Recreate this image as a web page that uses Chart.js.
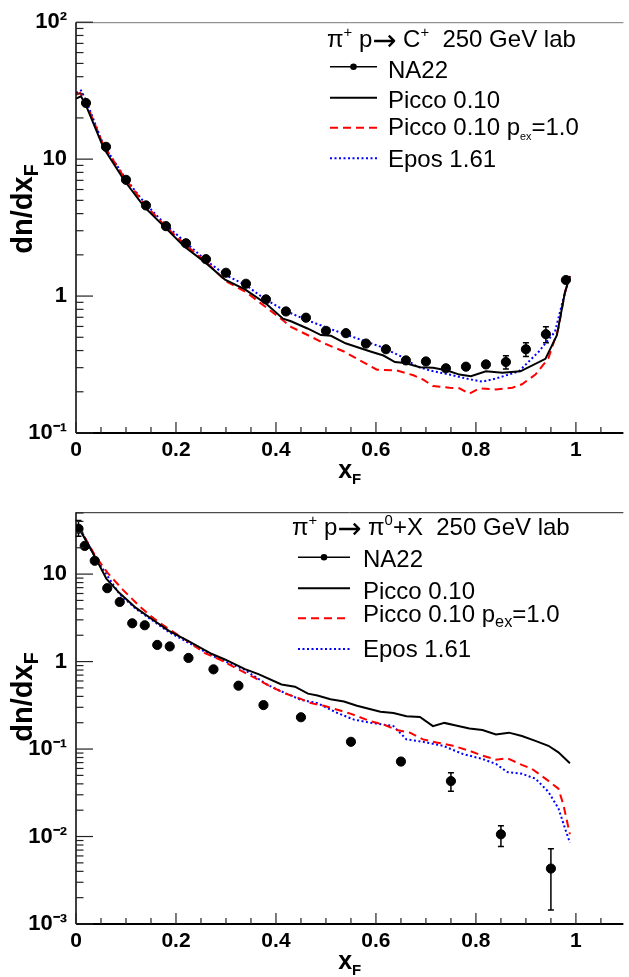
<!DOCTYPE html>
<html>
<head>
<meta charset="utf-8">
<script src="https://cdn.jsdelivr.net/npm/chart.js@4"></script>
<style>
  html, body { margin: 0; padding: 0; background: #fff; overflow: hidden; }
  canvas { position: absolute; left: 0; }
  #chart-top { top: 0; }
  #chart-bot { top: 490px; }
</style>
</head>
<body>
<canvas id="chart-top" width="629" height="490"></canvas>
<canvas id="chart-bot" width="629" height="487"></canvas>
<script>
// ---- top panel: pi+ p -> C+ ----
const topNA22X = [0.02, 0.06, 0.10, 0.14, 0.18, 0.22, 0.26, 0.30, 0.34, 0.38, 0.42, 0.46, 0.50,
                  0.54, 0.58, 0.62, 0.66, 0.70, 0.74, 0.78, 0.82, 0.86, 0.90, 0.94, 0.98];
const topNA22Y = [25.7, 12.3, 7.06, 4.59, 3.24, 2.43, 1.86, 1.48, 1.23, 0.946, 0.772, 0.695, 0.557,
                  0.536, 0.450, 0.409, 0.339, 0.333, 0.297, 0.305, 0.317, 0.330, 0.409, 0.527, 1.31];
const topNA22Err = [0.5, 0.2, 0.1, 0.06, 0.04, 0.03, 0.02, 0.02, 0.02, 0.015, 0.012, 0.012, 0.01,
                    0.01, 0.01, 0.01, 0.008, 0.008, 0.008, 0.015, 0.016, 0.037, 0.047, 0.07, 0.03];

const topPiccoX = [0, 0.01, 0.02, 0.055, 0.097, 0.137, 0.18, 0.216, 0.255, 0.298, 0.338, 0.381, 0.414,
                   0.43, 0.463, 0.49, 0.51, 0.539, 0.589, 0.615, 0.638, 0.658, 0.688, 0.714, 0.741,
                   0.767, 0.79, 0.82, 0.853, 0.889, 0.939, 0.962, 0.978, 0.988];
const topPiccoY = [27.7, 28.8, 24.7, 12.1, 6.95, 4.47, 3.12, 2.31, 1.80, 1.32, 1.12, 0.875, 0.684,
                   0.655, 0.58, 0.519, 0.513, 0.452, 0.394, 0.368, 0.330, 0.324, 0.302, 0.299, 0.287,
                   0.267, 0.260, 0.282, 0.275, 0.282, 0.348, 0.519, 1.06, 1.40];

const topPexX = [0, 0.008, 0.02, 0.054, 0.097, 0.137, 0.18, 0.22, 0.26, 0.30, 0.34, 0.378, 0.414, 0.43,
                 0.47, 0.496, 0.536, 0.562, 0.602, 0.642, 0.675, 0.694, 0.714, 0.747, 0.767, 0.787,
                 0.807, 0.84, 0.873, 0.892, 0.919, 0.945, 0.965, 0.978, 0.988];
const topPexY = [29.5, 30.5, 26, 12.8, 7.3, 4.7, 3.2, 2.35, 1.78, 1.28, 1.07, 0.84, 0.665, 0.596,
                 0.505, 0.452, 0.394, 0.348, 0.290, 0.286, 0.264, 0.246, 0.220, 0.214, 0.212, 0.194,
                 0.212, 0.208, 0.214, 0.227, 0.267, 0.352, 0.58, 1.06, 1.40];

const topEposX = [0, 0.01, 0.02, 0.054, 0.097, 0.137, 0.18, 0.22, 0.26, 0.30, 0.34, 0.378, 0.417,
                  0.463, 0.516, 0.562, 0.609, 0.655, 0.681, 0.708, 0.747, 0.78, 0.813, 0.84, 0.886,
                  0.926, 0.958, 0.978, 0.988];
const topEposY = [30.5, 31.7, 27, 12.9, 7.4, 4.8, 3.3, 2.45, 1.82, 1.42, 1.2, 0.95, 0.785,
                  0.665, 0.563, 0.491, 0.427, 0.356, 0.307, 0.286, 0.267, 0.250, 0.237, 0.250, 0.282,
                  0.394, 0.548, 1.06, 1.40];

// ---- bottom panel: pi+ p -> pi0 + X ----
const botNA22X = [0.005, 0.0175, 0.0375, 0.0625, 0.0875, 0.1125, 0.1375, 0.1625, 0.1875, 0.225,
                  0.275, 0.325, 0.375, 0.45, 0.55, 0.65, 0.75, 0.85, 0.95];
const botNA22Y = [33, 21, 14.2, 6.9, 4.8, 2.74, 2.6, 1.55, 1.49, 1.10,
                  0.815, 0.53, 0.318, 0.231, 0.121, 0.072, 0.043, 0.0106, 0.0043];
const botNA22Lo = [27, 20.4, 13.8, 6.7, 4.7, 2.68, 2.54, 1.52, 1.46, 1.08,
                   0.80, 0.52, 0.312, 0.226, 0.118, 0.066, 0.033, 0.0077, 0.00145];
const botNA22Hi = [41, 21.6, 14.6, 7.1, 4.9, 2.80, 2.66, 1.58, 1.52, 1.12,
                   0.83, 0.54, 0.324, 0.236, 0.124, 0.078, 0.0536, 0.0133, 0.00727];

const botPiccoX = [0, 0.01, 0.04, 0.061, 0.087, 0.12, 0.153, 0.186, 0.226, 0.272, 0.299, 0.338,
                   0.365, 0.411, 0.438, 0.464, 0.483, 0.509, 0.536, 0.562, 0.609, 0.635, 0.661,
                   0.688, 0.714, 0.737, 0.76, 0.787, 0.813, 0.84, 0.866, 0.892, 0.919, 0.945,
                   0.965, 0.988];
const botPiccoY = [31.3, 30.5, 15.0, 8.8, 6.07, 4.11, 3.03, 2.24, 1.70, 1.22, 1.05, 0.82,
                   0.72, 0.548, 0.516, 0.43, 0.41, 0.371, 0.350, 0.312, 0.267, 0.258, 0.237,
                   0.233, 0.183, 0.199, 0.186, 0.172, 0.165, 0.147, 0.154, 0.141, 0.124, 0.109,
                   0.0916, 0.0689];

const botPexX = [0, 0.008, 0.04, 0.064, 0.094, 0.127, 0.156, 0.186, 0.222, 0.258, 0.291, 0.325,
                 0.354, 0.384, 0.417, 0.447, 0.47, 0.496, 0.523, 0.549, 0.589, 0.615, 0.642,
                 0.668, 0.694, 0.721, 0.754, 0.787, 0.813, 0.84, 0.863, 0.892, 0.912, 0.939,
                 0.965, 0.975, 0.988];
const botPexY = [31, 32.7, 15.7, 10.2, 6.6, 4.29, 3.1, 2.34, 1.73, 1.25, 1.03, 0.815,
                 0.668, 0.538, 0.434, 0.38, 0.335, 0.312, 0.281, 0.254, 0.208, 0.191, 0.165,
                 0.154, 0.129, 0.119, 0.109, 0.0957, 0.084, 0.0757, 0.0783, 0.0659, 0.0594, 0.0459,
                 0.0353, 0.023, 0.0106];

const botEposX = [0, 0.01, 0.04, 0.087, 0.12, 0.153, 0.186, 0.226, 0.272, 0.338, 0.384, 0.417,
                  0.45, 0.483, 0.523, 0.556, 0.589, 0.635, 0.661, 0.694, 0.734, 0.774, 0.813,
                  0.84, 0.863, 0.892, 0.919, 0.945, 0.965, 0.978, 0.988];
const botEposY = [30, 31.5, 15.0, 5.9, 4.0, 2.95, 2.17, 1.63, 1.17, 0.80, 0.538, 0.44,
                  0.365, 0.335, 0.258, 0.217, 0.2, 0.183, 0.129, 0.121, 0.109, 0.0877, 0.0771,
                  0.0676, 0.0545, 0.0522, 0.0459, 0.0324, 0.021, 0.0125, 0.0085];

const xTicks = [0, 0.2, 0.4, 0.6, 0.8, 1];
const topDecades = [0.1, 1, 10, 100];
const botDecades = [0.001, 0.01, 0.1, 1, 10];

const FONT = '"Liberation Sans", Arial, Helvetica, sans-serif';
const SYM = '"DejaVu Sans", sans-serif';
const supLabel = {'2': '10²', '1': '10', '0': '1', '-1': '10⁻¹', '-2': '10⁻²', '-3': '10⁻³'};

function pts(xs, ys) { return xs.map((x, i) => ({x: x, y: ys[i]})); }

function modelSets(picco, pex, epos) {
    return [
        {label: 'Picco 0.10', data: picco, showLine: true, pointRadius: 0,
         borderColor: '#000', borderWidth: 2},
        {label: 'Picco 0.10 pex=1.0', data: pex, showLine: true, pointRadius: 0,
         borderColor: '#ff0000', borderWidth: 2, borderDash: [8, 5]},
        {label: 'Epos 1.61', data: epos, showLine: true, pointRadius: 0,
         borderColor: '#0000ff', borderWidth: 2, borderDash: [2, 2.5]}
    ];
}

// draws text made of pieces: [text, 0 normal | 1 sup | 2 sub | 3 arrow, size factor]
function partFont(m, f, size, weight) {
    if (m === 3) return weight + ' ' + size * (f || 1.2) + 'px ' + SYM;
    const fs = m ? size * (f || 0.62) : size;
    return weight + ' ' + fs + 'px ' + FONT;
}
function rich(ctx, x, y, parts, size, weight) {
    parts.forEach(([t, m, f]) => {
        ctx.font = partFont(m, f, size, weight);
        const dy = m === 1 ? -size * 0.42 : m === 2 ? size * 0.22 : m === 3 ? size * 0.12 : 0;
        ctx.fillText(t, x, y + dy);
        x += ctx.measureText(t).width;
    });
    return x;
}
function richWidth(ctx, parts, size, weight) {
    let w = 0;
    parts.forEach(([t, m, f]) => {
        ctx.font = partFont(m, f, size, weight);
        w += ctx.measureText(t).width;
    });
    return w;
}

const panels = {
    'chart-top': {
        errX: topNA22X,
        errLo: topNA22Y.map((v, i) => v - topNA22Err[i]),
        errHi: topNA22Y.map((v, i) => v + topNA22Err[i]),
        topColor: '#777',
        title: {x: 327, y: 47, parts: [['π', 0], ['+', 1], [' p', 0], ['→', 3], [' C', 0], ['+', 1], ['  250 GeV lab', 0]]},
        legLine: [330, 377],
        legText: 388,
        entries: [
            {ds: 0, ly: 66.7, ty: 78, parts: [['NA22', 0]]},
            {ds: 1, ly: 97.7, ty: 108, parts: [['Picco 0.10', 0]]},
            {ds: 2, ly: 127.7, ty: 135, parts: [['Picco 0.10 p', 0], ['ex', 2, 0.45], ['=1.0', 0]]},
            {ds: 3, ly: 158.3, ty: 166.7, parts: [['Epos 1.61', 0]]}
        ],
        xTitleY: 478,
        yTitleMid: 209
    },
    'chart-bot': {
        errX: botNA22X,
        errLo: botNA22Lo,
        errHi: botNA22Hi,
        topColor: '#222',
        title: {x: 292, y: 45, parts: [['π', 0], ['+', 1], [' p', 0], ['→', 3], [' π', 0], ['0', 1], ['+X  250 GeV lab', 0]]},
        legLine: [298, 350],
        legText: 363,
        entries: [
            {ds: 0, ly: 67.3, ty: 76.7, parts: [['NA22', 0]]},
            {ds: 1, ly: 98.3, ty: 109, parts: [['Picco 0.10', 0]]},
            {ds: 2, ly: 128.3, ty: 131.7, parts: [['Picco 0.10 p', 0], ['ex', 2, 0.68], ['=1.0', 0]]},
            {ds: 3, ly: 159, ty: 166.7, parts: [['Epos 1.61', 0]]}
        ],
        xTitleY: 479,
        yTitleMid: 207
    }
};

const rootStyle = {
    id: 'rootStyle',
    beforeDatasetsDraw(chart) {
        const p = panels[chart.canvas.id];
        const {ctx, scales: {x, y}} = chart;
        ctx.save();
        ctx.strokeStyle = '#000';
        ctx.lineWidth = 1.5;
        p.errX.forEach((xv, i) => {
            const px = x.getPixelForValue(xv);
            const p1 = y.getPixelForValue(p.errLo[i]);
            const p2 = y.getPixelForValue(p.errHi[i]);
            ctx.beginPath();
            ctx.moveTo(px, p1); ctx.lineTo(px, p2);
            ctx.moveTo(px - 3, p1); ctx.lineTo(px + 3, p1);
            ctx.moveTo(px - 3, p2); ctx.lineTo(px + 3, p2);
            ctx.stroke();
        });
        ctx.restore();
    },
    afterDraw(chart) {
        const p = panels[chart.canvas.id];
        const {ctx, chartArea: a, scales: {x, y}} = chart;
        ctx.save();

        // frame
        ctx.strokeStyle = p.topColor;
        ctx.lineWidth = 1;
        ctx.beginPath(); ctx.moveTo(a.left, a.top + 0.5); ctx.lineTo(a.right, a.top + 0.5); ctx.stroke();
        ctx.strokeStyle = '#000';
        ctx.lineWidth = 1.5;
        ctx.beginPath(); ctx.moveTo(a.left, a.top); ctx.lineTo(a.left, a.bottom); ctx.stroke();
        ctx.lineWidth = 2;
        ctx.beginPath(); ctx.moveTo(a.left, a.bottom); ctx.lineTo(a.right, a.bottom); ctx.stroke();

        // x ticks (inside)
        ctx.lineWidth = 1.2;
        ctx.strokeStyle = '#222';
        for (let k = 0; k <= 21; k++) {
            const v = k * 0.05;
            const px = x.getPixelForValue(v);
            if (px > a.right) break;
            const len = k % 4 === 0 ? 11 : 6;
            ctx.beginPath(); ctx.moveTo(px, a.bottom); ctx.lineTo(px, a.bottom - len); ctx.stroke();
        }
        // y ticks (inside, log)
        const lo = Math.round(Math.log10(y.min)), hi = Math.ceil(Math.log10(y.max));
        for (let e = lo; e <= hi; e++) {
            for (let m = 1; m <= 9; m++) {
                const v = m * Math.pow(10, e);
                if (v < y.min * 0.999 || v > y.max * 1.001) continue;
                const py = y.getPixelForValue(v);
                const len = m === 1 ? 17 : 7.5;
                ctx.beginPath(); ctx.moveTo(a.left, py); ctx.lineTo(a.left + len, py); ctx.stroke();
            }
        }

        // legend
        ctx.fillStyle = '#000';
        ctx.textAlign = 'left';
        ctx.textBaseline = 'alphabetic';
        rich(ctx, p.title.x, p.title.y, p.title.parts, 24, 'normal');
        p.entries.forEach(en => {
            const ds = chart.data.datasets[en.ds];
            ctx.save();
            ctx.strokeStyle = ds.borderColor || '#000';
            ctx.lineWidth = en.ds === 0 ? 1.5 : ds.borderWidth;
            ctx.setLineDash(ds.borderDash || []);
            ctx.beginPath();
            ctx.moveTo(p.legLine[0], en.ly); ctx.lineTo(p.legLine[1], en.ly);
            ctx.stroke();
            ctx.restore();
            if (en.ds === 0) {
                ctx.beginPath();
                ctx.arc((p.legLine[0] + p.legLine[1]) / 2, en.ly, 3.3, 0, Math.PI * 2);
                ctx.fill();
            }
            rich(ctx, p.legText, en.ty, en.parts, 24, 'normal');
        });

        // axis titles
        const xt = [['x', 0], ['F', 2, 0.6]];
        const xw = richWidth(ctx, xt, 25, 'bold');
        rich(ctx, (a.left + a.right) / 2 - xw / 2, p.xTitleY, xt, 25, 'bold');
        const yt = [['dn/dx', 0], ['F', 2, 0.68]];
        const yw = richWidth(ctx, yt, 29, 'bold');
        ctx.save();
        ctx.translate(32, p.yTitleMid);
        ctx.rotate(-Math.PI / 2);
        rich(ctx, -yw / 2, 0, yt, 29, 'bold');
        ctx.restore();

        ctx.restore();
    }
};

function makeChart(id, na22, models, yMin, yMax, decades, xAxisH) {
    return new Chart(document.getElementById(id), {
        type: 'scatter',
        data: {
            datasets: [
                {label: 'NA22', data: na22, showLine: false, pointRadius: 4.6,
                 pointBackgroundColor: '#000', pointBorderColor: '#000', borderColor: '#000'}
            ].concat(models)
        },
        options: {
            responsive: false,
            animation: false,
            layout: {padding: {top: 16, right: 0, left: 0, bottom: 0}},
            plugins: {legend: {display: false}, tooltip: {enabled: false}},
            scales: {
                x: {
                    type: 'linear', min: 0, max: 1.095,
                    grid: {display: false, drawTicks: false}, border: {display: false},
                    ticks: {
                        color: '#000', padding: 5, maxRotation: 0, autoSkip: false,
                        font: {family: FONT, size: 21, weight: 'bold'},
                        callback: v => (v === 0 || v === 1) ? String(v) : v.toFixed(1)
                    },
                    afterBuildTicks: s => { s.ticks = xTicks.map(v => ({value: v})); },
                    afterFit: s => { s.height = xAxisH; }
                },
                y: {
                    type: 'logarithmic', min: yMin, max: yMax,
                    grid: {display: false, drawTicks: false}, border: {display: false},
                    ticks: {
                        color: '#000', padding: 9,
                        font: {family: FONT, size: 22, weight: 'bold'},
                        callback: v => supLabel[String(Math.round(Math.log10(v)))]
                    },
                    afterBuildTicks: s => { s.ticks = decades.map(v => ({value: v})); },
                    afterFit: s => { s.width = 76; }
                }
            }
        },
        plugins: [rootStyle]
    });
}

makeChart('chart-top', pts(topNA22X, topNA22Y),
    modelSets(pts(topPiccoX, topPiccoY), pts(topPexX, topPexY), pts(topEposX, topEposY)),
    0.1, 100, topDecades, 57);

makeChart('chart-bot', pts(botNA22X, botNA22Y),
    modelSets(pts(botPiccoX, botPiccoY), pts(botPexX, botPexY), pts(botEposX, botEposY)),
    0.001, 51, botDecades, 53);
</script>
</body>
</html>
